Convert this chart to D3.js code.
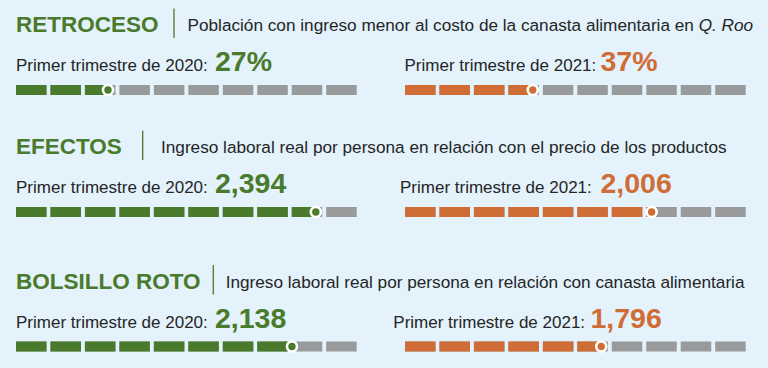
<!DOCTYPE html>
<html><head><meta charset="utf-8">
<script src="https://cdn.jsdelivr.net/npm/d3@7"></script>
<style>html,body{margin:0;padding:0;background:#e3f2fb;}svg{display:block;}</style>
</head><body>
<svg id="chart" width="768" height="368"></svg>
<script>
// ---- data ----
const titles = ["RETROCESO", "EFECTOS", "BOLSILLO ROTO"];
const subtitles = [
  ["Población con ingreso menor al costo de la canasta alimentaria en ", "Q. Roo"],
  ["Ingreso laboral real por persona en relación con el precio de los productos", ""],
  ["Ingreso laboral real por persona en relación con canasta alimentaria", ""]
];
const periodLabels = ["Primer trimestre de 2020:", "Primer trimestre de 2021:"];
const values2020 = ["27%", "2,394", "2,138"];
const values2021 = ["37%", "2,006", "1,796"];
// marker position on each 10-segment bar (percent of bar length)
const fill2020 = [27, 88, 81];
const fill2021 = [37.5, 72.4, 57.6];
const segments = d3.range(10);

// ---- style / layout ----
const GREEN = "#4a7a2b", ORANGE = "#d06c35", GRAY = "#999a9c", TEXT = "#252525";
const rowTop = [0, 122, 256.5];
const sepX = [174, 142.7, 213.3];
const subX = [187.5, 161, 225.7];
const rightLabelX = [404.5, 400, 393.3];
const leftValX = [215, 215, 215];
const rightValX = [600.5, 600.5, 590.5];
const barX = [16, 405], barW = 340.7, barH = 10;

const svg = d3.select("#chart");
const font = "'Liberation Sans', Arial, Helvetica, sans-serif";

titles.forEach((t, i) => {
  const g = svg.append("g").attr("transform", `translate(0,${rowTop[i]})`);
  g.append("text").attr("x", 16).attr("y", 32)
    .attr("font-family", font).attr("font-weight", "bold").attr("font-size", 22.5)
    .attr("fill", GREEN).text(t);
  g.append("line").attr("x1", sepX[i]).attr("x2", sepX[i]).attr("y1", 8.5).attr("y2", 38)
    .attr("stroke", GREEN).attr("stroke-width", 1.3);
  const st = g.append("text").attr("x", subX[i]).attr("y", 31)
    .attr("font-family", font).attr("font-size", 17.2).attr("fill", TEXT);
  st.append("tspan").text(subtitles[i][0]);
  if (subtitles[i][1]) st.append("tspan").attr("font-style", "italic").text(subtitles[i][1]);

  const sides = [
    {lx: 16, vx: leftValX[i], label: periodLabels[0], val: values2020[i], fill: fill2020[i], color: GREEN, bx: barX[0]},
    {lx: rightLabelX[i], vx: rightValX[i], label: periodLabels[1], val: values2021[i], fill: fill2021[i], color: ORANGE, bx: barX[1]}
  ];
  sides.forEach((s, k) => {
    g.append("text").attr("x", s.lx).attr("y", 71)
      .attr("font-family", font).attr("font-size", 17).attr("fill", TEXT).text(s.label);
    g.append("text").attr("x", s.vx).attr("y", 71)
      .attr("font-family", font).attr("font-weight", "bold").attr("font-size", 28.5)
      .attr("fill", s.color).text(s.val);

    const band = d3.scaleBand().domain(segments).range([s.bx, s.bx + barW]).paddingInner(0.115).paddingOuter(0);
    const pos = d3.scaleLinear().domain([0, 100]).range([s.bx, s.bx + barW]);
    const by = 85;
    g.append("g").selectAll("rect").data(segments).join("rect")
      .attr("x", d => band(d)).attr("y", by).attr("width", band.bandwidth()).attr("height", barH)
      .attr("fill", GRAY);
    const mx = pos(s.fill);
    const clipId = `clip-${i}-${k}`;
    g.append("clipPath").attr("id", clipId).append("rect")
      .attr("x", s.bx).attr("y", by - 2).attr("width", mx - s.bx).attr("height", barH + 4);
    g.append("g").attr("clip-path", `url(#${clipId})`).selectAll("rect").data(segments).join("rect")
      .attr("x", d => band(d)).attr("y", by).attr("width", band.bandwidth()).attr("height", barH)
      .attr("fill", s.color);
    g.append("circle").attr("cx", mx).attr("cy", by + barH / 2).attr("r", 5)
      .attr("fill", s.color).attr("stroke", "#fff").attr("stroke-width", 2.6);
  });
});
</script>
</body></html>
